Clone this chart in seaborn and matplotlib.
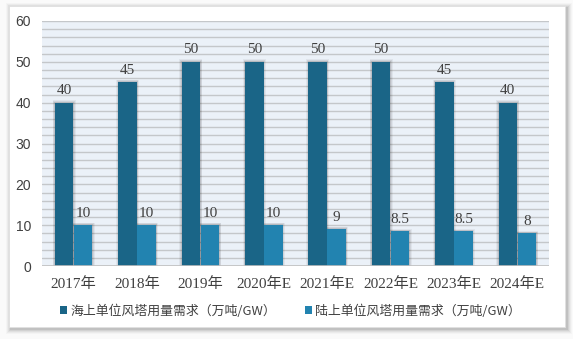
import matplotlib
matplotlib.use("Agg")
import matplotlib.pyplot as plt
import seaborn as sns
import pandas as pd
import numpy as np
from matplotlib.patches import Rectangle

categories = ["2017年", "2018年", "2019年", "2020年E", "2021年E", "2022年E", "2023年E", "2024年E"]
offshore = [40, 45, 50, 50, 50, 50, 45, 40]
onshore = [10, 10, 10, 10, 9, 8.5, 8.5, 8]
labels_off = ["40", "45", "50", "50", "50", "50", "45", "40"]
labels_on = ["10", "10", "10", "10", "9", "8.5", "8.5", "8"]
series_names = ["海上单位风塔用量需求（万吨/GW）", "陆上单位风塔用量需求（万吨/GW）"]
yticks = [0, 10, 20, 30, 40, 50, 60]

sns.set_theme(style="white")
plt.rcParams['font.family'] = ['Noto Sans CJK SC', 'DejaVu Sans']

df = pd.DataFrame({
    "cat": categories * 2,
    "val": offshore + onshore,
    "series": [series_names[0]] * len(categories) + [series_names[1]] * len(categories),
})

W, H = 573, 339
fig = plt.figure(figsize=(W / 100, H / 100), dpi=100)
fig.patch.set_facecolor("#FAFAFA")

# soft shadow, offset to lower right
for i, a in enumerate([0.025, 0.035, 0.045, 0.06, 0.08]):
    d = 5 - i
    fig.patches.append(Rectangle(((9 - d + 2) / W, 1 - (327 + d + 2) / H), (556 + 2 * d) / W, (321 + 2 * d) / H,
                                 transform=fig.transFigure, facecolor=(0, 0, 0, a), edgecolor="none", zorder=0))
fig.patches.append(Rectangle((9 / W, 1 - 327 / H), 556 / W, 321 / H,
                             transform=fig.transFigure, facecolor="white", edgecolor="#E0E0E0", lw=0.6, zorder=1))

ax = fig.add_axes([42 / W, 1 - 266 / H, (549 - 42) / W, (266 - 21) / H])
ax.set_zorder(2)
ax.set_facecolor("#EBF1F8")

colors = ["#1A6587", "#2283B0"]
sns.barplot(data=df, x="cat", y="val", hue="series", palette=colors, width=0.6,
            gap=0.03, ax=ax, saturation=1, edgecolor="none", legend=True, zorder=3)

# shadows behind bars
for p in list(ax.patches):
    if p.get_height() <= 0:
        continue
    x, w, h = p.get_x(), p.get_width(), p.get_height()
    for k, al in enumerate([0.05, 0.07, 0.09]):
        e = (3 - k) * 0.012
        ax.add_patch(Rectangle((x - e, 0), w + 2 * e, h + e * 18, facecolor=(0, 0, 0, al),
                               edgecolor="none", zorder=2.5))

# labels
for cont, labs in zip(ax.containers, [labels_off, labels_on]):
    ax.bar_label(cont, labels=labs, padding=4, fontsize=11, color="#404040",
                 family=["Liberation Serif", "Noto Sans CJK SC"])

ax.set_ylim(0, 60)
ax.set_yticks(yticks)
ax.set_yticklabels([str(t) for t in yticks], fontsize=10, color="#404040",
                   family=["Liberation Sans", "DejaVu Sans"])
ax.yaxis.grid(False)
for yv in np.arange(2, 61, 2):
    ax.axhline(yv, color="#C4C7CA", lw=1.0, zorder=1)
ax.axhline(0, color="#BFBFBF", lw=1.2, zorder=4)
ax.set_xlim(-0.5, len(categories) - 0.5)
ax.set_xlabel("")
ax.set_ylabel("")
ax.tick_params(axis="x", length=0, pad=8, labelsize=10, colors="#404040")
for t in ax.get_xticklabels():
    t.set_fontfamily(["Liberation Serif", "Noto Sans CJK SC"])
    t.set_fontsize(11)
ax.tick_params(axis="y", length=0, pad=8)
for s in ax.spines.values():
    s.set_visible(False)

leg = ax.get_legend()
handles = leg.legend_handles
leg.remove()
fig.legend(handles, series_names, loc="center", bbox_to_anchor=(0.507, 1 - 311 / H), ncol=2,
           frameon=False, fontsize=9.3, handlelength=0.55, handleheight=0.55, handletextpad=0.25,
           columnspacing=2.2, labelcolor="#404040")

fig.savefig("out.png", dpi=100, facecolor=fig.get_facecolor())
